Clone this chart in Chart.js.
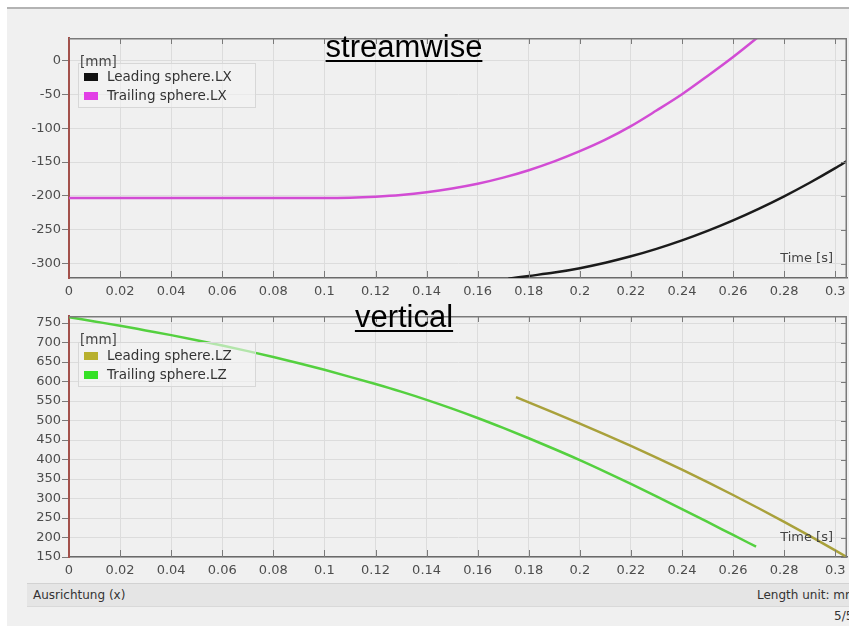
<!DOCTYPE html>
<html>
<head>
<meta charset="utf-8">
<script src="https://cdn.jsdelivr.net/npm/chart.js@4.4.1/dist/chart.umd.min.js"></script>
<style>
  body { margin: 0; width: 849px; height: 626px; overflow: hidden; background: #fff; position: relative; font-family: "DejaVu Sans", sans-serif; }
  #panel { position: absolute; left: 7px; top: 7px; right: 0; bottom: 0; background: #f0f0f0; border-top: 2px solid #b3b3b3; }
  canvas { position: absolute; left: 0; }
  .title { position: absolute; font-family: "Liberation Sans", Arial, sans-serif; font-size: 31px; line-height: 1; color: #000; text-decoration: underline; text-decoration-thickness: 2px; text-underline-offset: 3px; transform: translateX(-50%); white-space: nowrap; }
  .unit { position: absolute; font-size: 13.5px; line-height: 14px; color: #444; }
  .legend { position: absolute; width: 178px; border: 1px solid #d7d7d7; background: rgba(243,243,243,0.6); padding-top: 3px; box-sizing: border-box; height: 45px; }
  .legend div { height: 19px; line-height: 19px; font-size: 13.5px; color: #333; white-space: nowrap; }
  .legend span { display: inline-block; width: 14px; height: 8px; margin: 0 9px 1px 5px; vertical-align: middle; }
  #status { position: absolute; left: 27px; top: 583px; width: 830px; height: 22px; background: #e5e5e5; border-top: 1px solid #d2d2d2; border-bottom: 1px solid #d9d9d9; font-size: 12px; line-height: 22px; color: #333; white-space: nowrap; }
  #status .right { position: absolute; left: 730px; }
  #pageno { position: absolute; left: 834px; top: 609px; font-size: 12px; color: #333; white-space: nowrap; }
</style>
</head>
<body>
<div id="panel"></div>
<canvas id="lxChart" width="849" height="300" style="top:0"></canvas>
<canvas id="lzChart" width="849" height="280" style="top:300px"></canvas>

<div class="title" style="left:404px;top:31px">streamwise</div>
<div class="title" style="left:404px;top:301px">vertical</div>

<div class="legend" id="lxLegend" style="left:78px;top:63px"></div>
<div class="unit" style="left:80px;top:54px">[mm]</div>
<div class="legend" id="lzLegend" style="left:78px;top:342px"></div>
<div class="unit" style="left:80px;top:332px">[mm]</div>

<div id="status"><span style="margin-left:6px">Ausrichtung (x)</span><span class="right">Length unit: mm</span></div>
<div id="pageno">5/5</div>

<script>
// streamwise position [mm] over time [s]
var leadLXTime = [0.172, 0.18, 0.19, 0.20, 0.21, 0.22, 0.23, 0.24, 0.25, 0.26, 0.27, 0.28, 0.29, 0.30, 0.305];
var leadLX = [-322, -318, -313, -306.5, -298.5, -289, -278, -265.5, -251.5, -236, -219, -200.5, -180.5, -159, -147.5];
var trailLXTime = [0, 0.02, 0.04, 0.06, 0.08, 0.10, 0.11, 0.12, 0.13, 0.14, 0.15, 0.16, 0.17, 0.18, 0.19, 0.20, 0.21, 0.22, 0.23, 0.24, 0.25, 0.26, 0.27];
var trailLX = [-203, -203, -203, -203, -203, -203, -202.5, -201, -198.5, -194.5, -189, -182, -173, -162, -149, -134, -117, -97, -74, -50, -23, 5, 35];

// vertical position [mm] over time [s]
var leadLZTime = [0.175, 0.18, 0.19, 0.20, 0.21, 0.22, 0.23, 0.24, 0.25, 0.26, 0.27, 0.28, 0.29, 0.30, 0.306];
var leadLZ = [560, 546.5, 519.5, 492, 464, 435, 405, 374, 342, 309, 275, 240, 204, 167, 144.5];
var trailLZTime = [0, 0.01, 0.02, 0.03, 0.04, 0.05, 0.06, 0.07, 0.08, 0.09, 0.10, 0.11, 0.12, 0.13, 0.14, 0.15, 0.16, 0.17, 0.18, 0.19, 0.20, 0.21, 0.22, 0.23, 0.24, 0.25, 0.26, 0.269];
var trailLZ = [765, 754, 743, 731, 719, 706, 692.5, 678, 663, 647, 630, 612, 593.5, 574, 553, 530.5, 506.5, 481, 454.5, 427, 398.5, 368.5, 337.5, 305.5, 273, 240, 206.5, 176.5];

var timeTicks = { min: 0, max: 0.3046, step: 0.02 };
var lxTicks = { min: -321, max: 33, step: 50 };
var lzTicks = { min: 150, max: 768, step: 50 };

var tickFont = { family: 'DejaVu Sans', size: 13 };

function points(t, v) {
  return t.map(function (x, i) { return { x: x, y: v[i] }; });
}

function series(label, t, v, color, swatch) {
  return {
    label: label,
    data: points(t, v),
    borderColor: color,
    swatch: swatch,
    borderWidth: 2.5,
    pointRadius: 0,
    cubicInterpolationMode: 'monotone',
    clip: 0
  };
}

// box frame on top/right, inward ticks, and the time label
var frame = {
  id: 'frame',
  afterDatasetsDraw: function (chart) {
    var ctx = chart.ctx, a = chart.chartArea;
    var xs = chart.scales.x, ys = chart.scales.y;
    ctx.save();
    ctx.strokeStyle = '#7a7a7a';
    ctx.lineWidth = 1.5;
    ctx.beginPath();
    ctx.moveTo(a.left, a.top + 0.75); ctx.lineTo(a.right, a.top + 0.75);
    ctx.moveTo(a.right - 0.75, a.top); ctx.lineTo(a.right - 0.75, a.bottom);
    ctx.stroke();
    ctx.lineWidth = 1;
    ctx.beginPath();
    xs.ticks.forEach(function (t) {
      var px = Math.round(xs.getPixelForValue(t.value)) + 0.5;
      if (t.value === 0) return;
      ctx.moveTo(px, a.top); ctx.lineTo(px, a.top + 6);
      ctx.moveTo(px, a.bottom); ctx.lineTo(px, a.bottom - 7);
    });
    ys.ticks.forEach(function (t) {
      var py = Math.round(ys.getPixelForValue(t.value)) + 0.5;
      ctx.moveTo(a.right, py); ctx.lineTo(a.right - 6, py);
    });
    ctx.stroke();
    ctx.fillStyle = '#444';
    ctx.font = '13px "DejaVu Sans"';
    ctx.textAlign = 'right';
    ctx.textBaseline = 'middle';
    ctx.fillText('Time [s]', a.right - 14, a.bottom - 19);
    ctx.restore();
  }
};

function makeChart(id, datasets, yr, padTop, xHeight) {
  var ctx = document.getElementById(id).getContext('2d');
  return new Chart(ctx, {
    type: 'line',
    data: { datasets: datasets },
    plugins: [frame],
    options: {
      responsive: false,
      animation: false,
      events: [],
      layout: { padding: { top: padTop, right: 2, left: 0, bottom: 0 } },
      plugins: { legend: { display: false }, tooltip: { enabled: false } },
      scales: {
        x: {
          type: 'linear',
          min: timeTicks.min,
          max: timeTicks.max,
          afterFit: function (s) {
            s.height = xHeight;
            s.paddingLeft = 0;
            s.paddingRight = 0;
          },
          grid: { color: '#dcdcdc', drawTicks: false },
          border: { color: '#6a6a6a', width: 1.5 },
          ticks: {
            stepSize: timeTicks.step,
            includeBounds: false,
            autoSkip: false,
            maxRotation: 0,
            padding: 6,
            color: '#4d4d4d',
            font: tickFont,
            callback: function (v) { return String(Math.round(v * 100) / 100); }
          }
        },
        y: {
          min: yr.min,
          max: yr.max,
          afterFit: function (s) {
            s.width = 69;
            s.paddingTop = 0;
            s.paddingBottom = 0;
          },
          grid: { color: '#dcdcdc', tickColor: '#7a7a7a', tickLength: 7 },
          border: { color: '#a3514b', width: 2 },
          ticks: {
            stepSize: yr.step,
            includeBounds: false,
            padding: 1,
            color: '#4d4d4d',
            font: tickFont
          }
        }
      }
    }
  });
}

function fillLegend(id, datasets) {
  var box = document.getElementById(id);
  datasets.forEach(function (d) {
    var row = document.createElement('div');
    var sw = document.createElement('span');
    sw.style.background = d.swatch;
    row.appendChild(sw);
    row.appendChild(document.createTextNode(d.label));
    box.appendChild(row);
  });
}

var lxSets = [
  series('Leading sphere.LX', leadLXTime, leadLX, '#1b1b1b', '#111111'),
  series('Trailing sphere.LX', trailLXTime, trailLX, '#d24cd4', '#e23fe6')
];
var lzSets = [
  series('Leading sphere.LZ', leadLZTime, leadLZ, '#a9a13b', '#b8b02e'),
  series('Trailing sphere.LZ', trailLZTime, trailLZ, '#54d03f', '#35e126')
];

makeChart('lxChart', lxSets, lxTicks, 38, 22);
makeChart('lzChart', lzSets, lzTicks, 16, 23);
fillLegend('lxLegend', lxSets);
fillLegend('lzLegend', lzSets);
</script>
</body>
</html>
